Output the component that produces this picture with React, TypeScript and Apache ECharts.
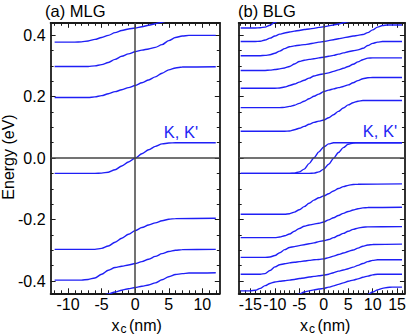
import React, { useEffect, useRef } from "react";
import * as echarts from "echarts";

const FONT = "'Liberation Sans', Arial, Helvetica, sans-serif";
const BLUE = "#1f1ff5";
const INK = "#1a1a1a";

// ---- axis ranges & ticks ----
const yRange = [-0.44, 0.44];
const yMajor = [-0.4, -0.2, 0, 0.2, 0.4];
const yMinor = [-0.35, -0.3, -0.25, -0.15, -0.1, -0.05, 0.05, 0.1, 0.15, 0.25, 0.3, 0.35];
const xRangeMLG = [-12.6, 12.6];
const xMajorMLG = [-10, -5, 0, 5, 10];
const xMinorMLG = [-12, -11, -9, -8, -7, -6, -4, -3, -2, -1, 1, 2, 3, 4, 6, 7, 8, 9, 11, 12];
const xRangeBLG = [-17.4, 16.6];
const xMajorBLG = [-15, -10, -5, 0, 5, 10, 15];
const xMinorBLG = [-17, -16, -14, -13, -12, -11, -9, -8, -7, -6, -4, -3, -2, -1, 1, 2, 3, 4, 6, 7, 8, 9, 11, 12, 13, 14, 16];

// ---- MLG curves [x_c (nm), E (eV)] ----
const mlgZero = [[-12,-0.05],[-6,-0.05],[-5,-0.049],[-4,-0.046],[-3,-0.038],[-2,-0.026],[-1,-0.013],[0,0],[1,0.014],[2,0.027],[3,0.038],[4,0.046],[5,0.049],[6,0.05],[12,0.05]];
const mlgUp1 = [[-12,0.197],[-7,0.197],[-6,0.199],[-5,0.203],[-4,0.209],[-3,0.216],[-2,0.222],[-1,0.229],[0,0.236],[1,0.245],[2,0.254],[3,0.264],[4,0.276],[5,0.287],[6,0.293],[7,0.296],[12,0.297]];
const mlgUp2 = [[-12,0.298],[-7,0.298],[-6,0.3],[-5,0.304],[-4,0.311],[-3,0.321],[-2,0.331],[-1,0.339],[0,0.346],[1,0.351],[2,0.355],[3,0.36],[4,0.369],[5,0.382],[6,0.392],[7,0.397],[8,0.399],[12,0.399]];
const mlgUp3 = [[-12,0.377],[-9,0.377],[-8,0.378],[-7,0.381],[-6,0.386],[-5,0.392],[-4,0.399],[-3,0.408],[-2,0.415],[-1,0.42],[0,0.423],[1,0.427],[2,0.432],[3,0.437],[4,0.442],[5,0.447],[6,0.452]];
const mlgDn1 = [[-12,-0.297],[-6,-0.297],[-5,-0.294],[-4,-0.286],[-3,-0.274],[-2,-0.261],[-1,-0.248],[0,-0.236],[1,-0.226],[2,-0.218],[3,-0.211],[4,-0.204],[5,-0.199],[6,-0.197],[12,-0.196]];
const mlgDn2 = [[-12,-0.397],[-8,-0.397],[-7,-0.395],[-6,-0.39],[-5,-0.378],[-4,-0.365],[-3,-0.356],[-2,-0.352],[-1,-0.348],[0,-0.343],[1,-0.337],[2,-0.329],[3,-0.32],[4,-0.311],[5,-0.304],[6,-0.3],[7,-0.298],[12,-0.297]];
const mlgDn3 = [[-6,-0.452],[-5,-0.447],[-4,-0.442],[-3,-0.436],[-2,-0.43],[-1,-0.425],[0,-0.421],[1,-0.417],[2,-0.413],[3,-0.406],[4,-0.396],[5,-0.386],[6,-0.379],[7,-0.376],[8,-0.374],[12,-0.373]];

// ---- BLG curves ----
const blgZeroA = [[-17,-0.05],[-7,-0.05],[-6,-0.049],[-5,-0.045],[-4,-0.036],[-3,-0.018],[-2,0.001],[-1,0.02],[0,0.036],[1,0.046],[2,0.05],[16,0.05]];
const blgZeroB = [[-17,-0.05],[-3,-0.05],[-2,-0.049],[-1,-0.045],[0,-0.036],[1,-0.02],[2,-0.001],[3,0.018],[4,0.034],[5,0.045],[6,0.049],[7,0.05],[16,0.05]];
const blgUp1 = [[-17,0.087],[-8,0.087],[-7,0.088],[-6,0.092],[-5,0.097],[-4,0.103],[-3,0.11],[-2,0.116],[-1,0.12],[0,0.124],[1,0.131],[2,0.141],[3,0.152],[4,0.163],[5,0.173],[6,0.18],[7,0.185],[8,0.187],[16,0.187]];
const blgUp2 = [[-17,0.164],[-9,0.164],[-8,0.165],[-7,0.168],[-6,0.172],[-5,0.178],[-4,0.185],[-3,0.193],[-2,0.201],[-1,0.208],[0,0.216],[1,0.221],[2,0.225],[3,0.229],[4,0.233],[5,0.238],[6,0.245],[7,0.252],[8,0.258],[9,0.261],[10,0.262],[16,0.262]];
const blgUp3 = [[-17,0.227],[-10,0.227],[-9,0.228],[-8,0.231],[-7,0.236],[-6,0.241],[-5,0.247],[-4,0.253],[-3,0.26],[-2,0.267],[-1,0.271],[0,0.274],[1,0.277],[2,0.282],[3,0.287],[4,0.292],[5,0.298],[6,0.305],[7,0.313],[8,0.32],[9,0.325],[10,0.326],[16,0.326]];
const blgUp4 = [[-17,0.285],[-12,0.285],[-11,0.286],[-10,0.288],[-9,0.29],[-8,0.293],[-7,0.298],[-6,0.306],[-5,0.314],[-4,0.318],[-3,0.321],[-2,0.323],[-1,0.326],[0,0.328],[1,0.331],[2,0.334],[3,0.338],[4,0.342],[5,0.346],[6,0.349],[7,0.352],[8,0.357],[9,0.366],[10,0.373],[11,0.377],[12,0.379],[16,0.379]];
const blgUp5 = [[-17,0.333],[-13,0.333],[-12,0.334],[-11,0.336],[-10,0.341],[-9,0.348],[-8,0.356],[-7,0.362],[-6,0.365],[-5,0.367],[-4,0.369],[-3,0.371],[-2,0.374],[-1,0.377],[0,0.379],[1,0.382],[2,0.385],[3,0.388],[4,0.391],[5,0.394],[6,0.397],[7,0.399],[8,0.402],[9,0.408],[10,0.417],[11,0.426],[12,0.431],[13,0.433],[16,0.433]];
const blgUp6 = [[-17,0.379],[-14,0.379],[-13,0.38],[-12,0.384],[-11,0.39],[-10,0.397],[-9,0.403],[-8,0.407],[-7,0.41],[-6,0.413],[-5,0.415],[-4,0.418],[-3,0.42],[-2,0.422],[-1,0.425],[0,0.427],[1,0.43],[2,0.433],[3,0.436],[4,0.44],[5,0.444],[6,0.448]];
const blgUp7 = [[-17,0.423],[-14,0.423],[-13,0.424],[-12,0.426],[-11,0.432],[-10,0.442],[-9,0.45]];
const blgDn1 = [[-17,-0.183],[-8,-0.183],[-7,-0.181],[-6,-0.176],[-5,-0.168],[-4,-0.158],[-3,-0.147],[-2,-0.137],[-1,-0.129],[0,-0.123],[1,-0.116],[2,-0.107],[3,-0.099],[4,-0.093],[5,-0.089],[6,-0.086],[7,-0.085],[16,-0.084]];
const blgDn2 = [[-17,-0.259],[-10,-0.259],[-9,-0.257],[-8,-0.253],[-7,-0.247],[-6,-0.238],[-5,-0.229],[-4,-0.222],[-3,-0.218],[-2,-0.215],[-1,-0.212],[0,-0.208],[1,-0.201],[2,-0.194],[3,-0.187],[4,-0.18],[5,-0.174],[6,-0.169],[7,-0.165],[8,-0.162],[9,-0.161],[16,-0.16]];
const blgDn3 = [[-17,-0.323],[-12,-0.323],[-11,-0.322],[-10,-0.317],[-9,-0.308],[-8,-0.298],[-7,-0.291],[-6,-0.288],[-5,-0.285],[-4,-0.282],[-3,-0.279],[-2,-0.276],[-1,-0.272],[0,-0.269],[1,-0.265],[2,-0.259],[3,-0.252],[4,-0.245],[5,-0.238],[6,-0.232],[7,-0.228],[8,-0.225],[9,-0.224],[16,-0.223]];
const blgDn4 = [[-17,-0.378],[-13,-0.378],[-12,-0.376],[-11,-0.366],[-10,-0.354],[-9,-0.347],[-8,-0.344],[-7,-0.341],[-6,-0.339],[-5,-0.337],[-4,-0.335],[-3,-0.333],[-2,-0.331],[-1,-0.33],[0,-0.328],[1,-0.324],[2,-0.319],[3,-0.314],[4,-0.309],[5,-0.304],[6,-0.299],[7,-0.293],[8,-0.287],[9,-0.283],[10,-0.281],[16,-0.28]];
const blgDn5 = [[-17,-0.432],[-15,-0.432],[-14,-0.43],[-13,-0.424],[-12,-0.415],[-11,-0.408],[-10,-0.403],[-9,-0.401],[-8,-0.399],[-7,-0.397],[-6,-0.395],[-5,-0.392],[-4,-0.39],[-3,-0.387],[-2,-0.385],[-1,-0.383],[0,-0.381],[1,-0.378],[2,-0.373],[3,-0.368],[4,-0.364],[5,-0.36],[6,-0.355],[7,-0.349],[8,-0.343],[9,-0.337],[10,-0.333],[11,-0.331],[16,-0.331]];
const blgDn6 = [[-6,-0.45],[-5,-0.442],[-4,-0.436],[-3,-0.432],[-2,-0.429],[-1,-0.426],[0,-0.424],[1,-0.42],[2,-0.416],[3,-0.411],[4,-0.406],[5,-0.401],[6,-0.397],[7,-0.393],[8,-0.388],[9,-0.384],[10,-0.38],[11,-0.378],[16,-0.378]];
const blgDn7 = [[8,-0.452],[9,-0.444],[10,-0.436],[11,-0.429],[12,-0.424],[13,-0.421],[14,-0.42],[16,-0.42]];

const mlgCurves = [mlgZero, mlgUp1, mlgUp2, mlgUp3, mlgDn1, mlgDn2, mlgDn3];
const blgCurves = [blgZeroA, blgZeroB, blgUp1, blgUp2, blgUp3, blgUp4, blgUp5, blgUp6, blgUp7, blgDn1, blgDn2, blgDn3, blgDn4, blgDn5, blgDn6, blgDn7];

function axisDef(
  gridIndex: number,
  position: string,
  range: number[],
  values: number[],
  tickLen: number,
  showLabels: boolean,
  showLine: boolean,
  fmt?: (v: number) => string
) {
  return {
    type: "value",
    gridIndex,
    position,
    min: range[0],
    max: range[1],
    axisLine: { show: showLine, onZero: false, lineStyle: { color: INK, width: 1.8 } },
    axisTick: { show: true, inside: true, length: tickLen, customValues: values, lineStyle: { color: INK, width: 1 } },
    axisLabel: {
      show: showLabels,
      customValues: values,
      color: "#000",
      fontSize: 16,
      fontFamily: FONT,
      margin: position === "left" ? 5 : 3,
      formatter: fmt,
    },
    splitLine: { show: false },
    minorTick: { show: false },
  };
}

const fmtY = (v: number) => v.toFixed(1);
const fmtX = (v: number) => String(v);

export default function App() {
  const ref = useRef<HTMLDivElement>(null);
  useEffect(() => {
    if (!ref.current) return;
    const chart = echarts.init(ref.current, undefined, { renderer: "svg" });
    const zeroMark = {
      silent: true,
      symbol: ["none", "none"],
      label: { show: false },
      lineStyle: { color: "#444", width: 1.5, type: "solid" },
      data: [{ xAxis: 0 }, { yAxis: 0 }],
    };
    const mkSeries = (curves: number[][][], axisIdx: number, prefix: string) =>
      curves.map((d, i) => ({
        type: "line",
        name: `${prefix}${i}`,
        xAxisIndex: axisIdx,
        yAxisIndex: axisIdx,
        data: d,
        symbol: "none",
        smooth: 0.3,
        smoothMonotone: "x",
        clip: true,
        lineStyle: { color: BLUE, width: 1.4 },
        z: 3,
        markLine: i === 0 ? zeroMark : undefined,
      }));

    chart.setOption({
      animation: false,
      backgroundColor: "#fff",
      grid: [
        { left: 50.6, top: 22.8, width: 169.2, height: 270.5 },
        { left: 238.7, top: 22.8, width: 166.6, height: 270.5 },
      ],
      xAxis: [
        axisDef(0, "bottom", xRangeMLG, xMajorMLG, 5, true, true, fmtX),
        axisDef(0, "bottom", xRangeMLG, xMinorMLG, 3, false, false),
        axisDef(0, "top", xRangeMLG, xMajorMLG, 5, false, true),
        axisDef(0, "top", xRangeMLG, xMinorMLG, 3, false, false),
        axisDef(1, "bottom", xRangeBLG, xMajorBLG, 5, true, true, fmtX),
        axisDef(1, "bottom", xRangeBLG, xMinorBLG, 3, false, false),
        axisDef(1, "top", xRangeBLG, xMajorBLG, 5, false, true),
        axisDef(1, "top", xRangeBLG, xMinorBLG, 3, false, false),
      ],
      yAxis: [
        axisDef(0, "left", yRange, yMajor, 5, true, true, fmtY),
        axisDef(0, "left", yRange, yMinor, 3, false, false),
        axisDef(0, "right", yRange, yMajor, 5, false, true),
        axisDef(0, "right", yRange, yMinor, 3, false, false),
        axisDef(1, "left", yRange, yMajor, 5, false, true),
        axisDef(1, "left", yRange, yMinor, 3, false, false),
        axisDef(1, "right", yRange, yMajor, 5, false, true),
        axisDef(1, "right", yRange, yMinor, 3, false, false),
      ],
      series: [...mkSeries(mlgCurves, 0, "MLG "), ...mkSeries(blgCurves, 4, "BLG ")],
      graphic: [
        { type: "text", left: 45, top: 2, style: { text: "(a) MLG", font: `16.5px ${FONT}`, fill: "#000" } },
        { type: "text", left: 238, top: 2, style: { text: "(b) BLG", font: `16.5px ${FONT}`, fill: "#000" } },
        { type: "text", x: 181, y: 132, style: { text: "K, K'", font: `16.5px ${FONT}`, fill: BLUE, textAlign: "center", textVerticalAlign: "middle" } },
        { type: "text", x: 380, y: 131, style: { text: "K, K'", font: `16.5px ${FONT}`, fill: BLUE, textAlign: "center", textVerticalAlign: "middle" } },
        { type: "text", x: 8.5, y: 157, rotation: Math.PI / 2, style: { text: "Energy (eV)", font: `16px ${FONT}`, fill: "#000", textAlign: "center", textVerticalAlign: "middle" } },
        { type: "text", x: 111.5, y: 325, style: { text: "x", font: `16px ${FONT}`, fill: "#000", textAlign: "left", textVerticalAlign: "middle" } },
        { type: "text", x: 120.5, y: 329, style: { text: "c", font: `12px ${FONT}`, fill: "#000", textAlign: "left", textVerticalAlign: "middle" } },
        { type: "text", x: 129, y: 325, style: { text: "(nm)", font: `16px ${FONT}`, fill: "#000", textAlign: "left", textVerticalAlign: "middle" } },
        { type: "text", x: 300, y: 325, style: { text: "x", font: `16px ${FONT}`, fill: "#000", textAlign: "left", textVerticalAlign: "middle" } },
        { type: "text", x: 309, y: 329, style: { text: "c", font: `12px ${FONT}`, fill: "#000", textAlign: "left", textVerticalAlign: "middle" } },
        { type: "text", x: 317.5, y: 325, style: { text: "(nm)", font: `16px ${FONT}`, fill: "#000", textAlign: "left", textVerticalAlign: "middle" } },
      ],
    });
    return () => chart.dispose();
  }, []);
  return <div ref={ref} style={{ position: "absolute", left: 0, top: 0, width: 409, height: 336 }} />;
}
